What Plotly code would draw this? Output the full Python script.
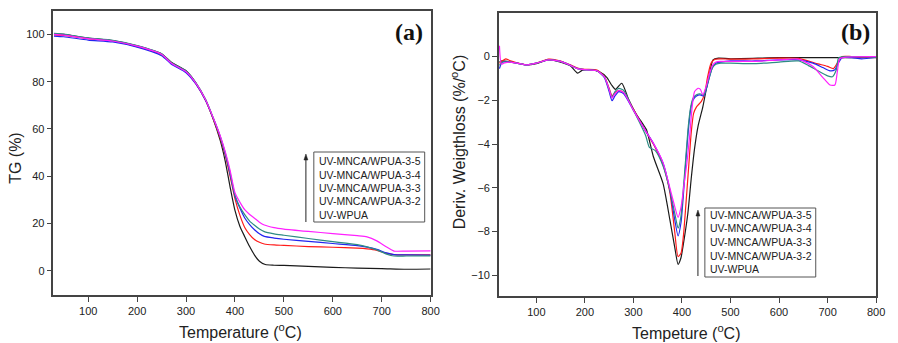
import plotly.graph_objects as go

W, H = 898, 343

# ---------------- Panel (a): TG curves ----------------
Ta_black = [30, 50, 100, 150, 200, 250, 270, 300, 320, 340, 355, 370, 380, 390, 400, 410, 420, 430, 440, 450, 462, 480, 500, 550, 600, 650, 700, 750, 800]
TG_black = [100.2, 100.0, 98.4, 97.4, 95.2, 91.8, 88.2, 84.6, 79.5, 72.2, 64.5, 55.0, 46.5, 35.5, 25.5, 18.8, 14.4, 10.2, 6.6, 4.0, 2.6, 2.3, 2.2, 1.8, 1.4, 1.1, 0.9, 0.6, 0.7]

Ta = [30, 50, 100, 150, 200, 250, 270, 300, 320, 340, 355, 370, 380, 390, 400, 410, 420, 430, 440, 450, 460, 480, 500, 550, 600, 650, 670, 690, 710, 725, 750, 800]
TG_32 = [99.8, 99.6, 98.2, 97.2, 94.8, 91.5, 87.8, 84.2, 79.2, 72.0, 64.5, 56.0, 49.0, 40.0, 30.5, 23.5, 18.3, 15.3, 13.2, 12.0, 11.3, 10.9, 10.7, 10.2, 9.9, 9.5, 9.2, 8.6, 7.3, 6.8, 6.7, 6.7]
TG_33 = [99.3, 99.0, 97.6, 96.8, 94.6, 91.0, 87.4, 83.8, 79.0, 72.0, 64.8, 56.5, 49.5, 41.0, 31.5, 26.5, 22.3, 19.5, 17.3, 15.6, 14.5, 13.8, 13.3, 12.4, 11.5, 10.6, 10.0, 9.0, 7.5, 6.8, 6.7, 6.6]
TG_34 = [100.4, 100.1, 98.5, 97.5, 95.3, 91.8, 88.0, 84.5, 79.6, 72.5, 65.0, 56.8, 50.0, 41.5, 32.0, 27.0, 23.7, 21.0, 19.2, 17.6, 16.5, 15.6, 15.0, 13.6, 12.3, 11.0, 10.1, 8.8, 7.0, 6.2, 6.2, 6.3]
TG_35 = [100.0, 99.7, 98.2, 97.2, 95.0, 91.6, 87.8, 84.2, 79.4, 72.3, 65.0, 57.0, 50.5, 42.5, 33.0, 29.0, 25.8, 23.8, 22.2, 20.5, 19.3, 18.2, 17.6, 16.6, 15.7, 14.8, 14.3, 12.6, 10.0, 8.3, 8.3, 8.4]

# ---------------- Panel (b): DTG curves ----------------
Tb_black = [24, 30, 40, 60, 80, 100, 125, 150, 170, 185, 195, 210, 230, 245, 255, 263, 276, 290, 305, 320, 327, 341, 361, 375, 385, 392, 398, 402, 412, 419, 426, 433, 443, 450, 457, 464, 475, 500, 600, 700, 750, 800]
D_black = [-0.25, -0.2, -0.22, -0.3, -0.38, -0.32, -0.15, -0.25, -0.42, -0.76, -0.62, -0.6, -0.7, -0.95, -1.3, -1.5, -1.22, -1.95, -2.6, -3.1, -3.35, -4.57, -5.8, -7.45, -8.7, -9.5, -9.2, -8.7, -7.2, -5.6, -4.2, -3.2, -2.3, -1.5, -0.76, -0.15, -0.07, -0.1, -0.05, -0.05, -0.05, -0.05]

Tb_32 = [24, 30, 37, 45, 60, 80, 100, 125, 150, 170, 185, 200, 225, 240, 250, 256, 262, 270, 280, 300, 325, 341, 361, 375, 385, 392, 398, 403, 408, 414, 419, 424, 430, 440, 447, 453, 460, 468, 480, 500, 550, 600, 640, 680, 700, 712, 720, 730, 750, 800]
D_32 = [-0.3, -0.2, -0.1, -0.18, -0.28, -0.37, -0.3, -0.12, -0.2, -0.38, -0.52, -0.58, -0.62, -0.9, -1.45, -1.8, -1.65, -1.55, -1.65, -2.4, -3.4, -4.0, -4.95, -6.2, -8.0, -9.15, -9.0, -8.2, -6.8, -5.0, -3.5, -2.6, -2.3, -2.05, -1.67, -0.91, -0.3, -0.12, -0.1, -0.12, -0.1, -0.07, -0.08, -0.33, -0.45, -0.55, -0.3, 0.0, 0.0, -0.02]

Tb_33 = [24, 30, 45, 60, 80, 100, 125, 150, 170, 185, 200, 225, 240, 250, 256, 262, 270, 280, 300, 325, 341, 361, 375, 385, 392, 398, 403, 408, 413, 418, 423, 430, 437, 445, 450, 457, 463, 470, 480, 500, 550, 600, 640, 670, 690, 705, 715, 722, 730, 750, 770, 800]
D_33 = [-0.55, -0.25, -0.25, -0.3, -0.38, -0.3, -0.15, -0.22, -0.4, -0.55, -0.6, -0.65, -0.95, -1.6, -2.02, -1.8, -1.6, -1.7, -2.45, -3.4, -3.96, -4.87, -6.1, -7.45, -8.2, -7.6, -6.3, -4.8, -3.4, -2.4, -1.98, -1.8, -1.75, -1.8, -1.5, -0.9, -0.5, -0.3, -0.25, -0.2, -0.2, -0.15, -0.15, -0.3, -0.5, -0.65, -0.6, -0.3, -0.05, -0.05, -0.1, -0.03]

Tb_34 = [24, 30, 45, 60, 80, 100, 125, 150, 170, 185, 200, 225, 240, 250, 256, 262, 270, 280, 300, 325, 333, 345, 361, 375, 385, 392, 398, 403, 408, 413, 418, 423, 430, 437, 445, 450, 457, 463, 470, 480, 500, 550, 600, 640, 660, 680, 700, 710, 718, 723, 750, 800]
D_34 = [-0.4, -0.25, -0.25, -0.3, -0.38, -0.3, -0.15, -0.22, -0.4, -0.55, -0.6, -0.65, -0.92, -1.5, -1.85, -1.6, -1.45, -1.55, -2.45, -3.6, -4.15, -4.3, -5.0, -6.1, -7.15, -7.85, -7.3, -6.0, -4.6, -3.2, -2.3, -1.9, -1.75, -1.7, -1.75, -1.45, -0.9, -0.5, -0.35, -0.3, -0.3, -0.32, -0.25, -0.2, -0.4, -0.65, -0.88, -0.92, -0.6, -0.05, 0.0, -0.02]

Tb_35 = [24, 28, 33, 45, 60, 80, 100, 125, 150, 170, 185, 200, 225, 240, 250, 256, 262, 270, 280, 300, 325, 341, 361, 375, 385, 392, 398, 404, 410, 416, 421, 426, 433, 438, 443, 450, 457, 463, 470, 480, 500, 550, 600, 640, 670, 690, 705, 715, 720, 725, 740, 800]
D_35 = [0.5, -0.35, -0.3, -0.25, -0.3, -0.38, -0.3, -0.15, -0.22, -0.4, -0.55, -0.6, -0.65, -0.92, -1.5, -1.9, -1.7, -1.55, -1.65, -2.45, -3.4, -3.96, -4.85, -6.0, -6.85, -7.35, -6.9, -5.9, -4.9, -3.6, -2.3, -1.6, -1.45, -1.5, -1.75, -1.35, -0.76, -0.4, -0.25, -0.22, -0.22, -0.22, -0.15, -0.12, -0.45, -0.95, -1.3, -1.3, -0.7, -0.1, -0.02, 0.0]

series_names = ["UV-WPUA", "UV-MNCA/WPUA-3-2", "UV-MNCA/WPUA-3-3", "UV-MNCA/WPUA-3-4", "UV-MNCA/WPUA-3-5"]
legend_lines = ["UV-MNCA/WPUA-3-5", "UV-MNCA/WPUA-3-4", "UV-MNCA/WPUA-3-3", "UV-MNCA/WPUA-3-2", "UV-WPUA"]
colors = ["#1a1a1a", "#ff1a1a", "#2424f0", "#2e8c84", "#ff20ff"]

# ---------------- helpers (pixel -> paper) ----------------
def px(x):
    return x / W

def py(y):
    return 1 - y / H

fig = go.Figure()

a_sets = [(Ta_black, TG_black), (Ta, TG_32), (Ta, TG_33), (Ta, TG_34), (Ta, TG_35)]
b_sets = [(Tb_black, D_black), (Tb_32, D_32), (Tb_33, D_33), (Tb_34, D_34), (Tb_35, D_35)]

for (x, y), name, c in zip(a_sets, series_names, colors):
    fig.add_trace(go.Scatter(x=x, y=y, name=name, mode="lines",
                             line=dict(color=c, width=1.2, shape="spline", smoothing=0.6),
                             xaxis="x", yaxis="y", showlegend=False))
for (x, y), name, c in zip(b_sets, series_names, colors):
    fig.add_trace(go.Scatter(x=x, y=y, name=name, mode="lines",
                             line=dict(color=c, width=1.2, shape="spline", smoothing=0.6),
                             xaxis="x2", yaxis="y2", showlegend=False))

axis_common = dict(showgrid=False, zeroline=False, showline=True, linecolor="#444",
                   linewidth=1.5, mirror=True, ticks="outside", ticklen=5, tickwidth=1.2,
                   tickcolor="#444", tickfont=dict(family="Liberation Sans, Arial", size=11, color="#222"))

fig.update_layout(
    width=W, height=H,
    margin=dict(l=0, r=0, t=0, b=0),
    paper_bgcolor="white", plot_bgcolor="white",
    xaxis=dict(domain=[px(54), px(435)], range=[29, 800], tickvals=[100, 200, 300, 400, 500, 600, 700, 800],
               anchor="y", **axis_common),
    yaxis=dict(domain=[py(295), py(11)], range=[-10.3, 109.9], tickvals=[0, 20, 40, 60, 80, 100],
               anchor="x", **axis_common),
    xaxis2=dict(domain=[px(504), px(885)], range=[23, 800], tickvals=[100, 200, 300, 400, 500, 600, 700, 800],
                anchor="y2", **axis_common),
    yaxis2=dict(domain=[py(296), py(13.3)], range=[-10.95, 1.98], tickvals=[-10, -8, -6, -4, -2, 0, 2],
                anchor="x2", **axis_common),
)

ann = []
title_font = dict(family="Liberation Sans, Arial", size=16, color="#222")
ann.append(dict(text="Temperature (<sup>o</sup>C)", x=px(243), y=py(331), xref="paper", yref="paper",
                showarrow=False, font=title_font, xanchor="center", yanchor="middle"))
ann.append(dict(text="TG (%)", x=px(15), y=py(158), xref="paper", yref="paper", textangle=-90,
                showarrow=False, font=title_font, xanchor="center", yanchor="middle"))
ann.append(dict(text="Tempeture (<sup>o</sup>C)", x=px(693), y=py(332), xref="paper", yref="paper",
                showarrow=False, font=title_font, xanchor="center", yanchor="middle"))
ann.append(dict(text="Deriv. Weigthloss (%/<sup>o</sup>C)", x=px(463), y=py(142), xref="paper", yref="paper",
                textangle=-90, showarrow=False, font=title_font, xanchor="center", yanchor="middle"))

label_font = dict(family="Liberation Serif, Times New Roman", size=24, color="#111")
ann.append(dict(text="<b>(a)</b>", x=px(413), y=py(32), xref="paper", yref="paper", showarrow=False,
                font=label_font, xanchor="center", yanchor="middle"))
ann.append(dict(text="<b>(b)</b>", x=px(864), y=py(32), xref="paper", yref="paper", showarrow=False,
                font=label_font, xanchor="center", yanchor="middle"))

leg_font = dict(family="Liberation Sans, Arial", size=10.5, color="#222")
shapes = []
for (bx0, bx1, by0, by1, tx, ys, arx, ahead, atail) in [
        (317, 429, 152, 222, 320.5, [161, 174.5, 188, 201.5, 215], 309, 154, 222),
        (712, 824, 208, 277, 715, [215, 228.5, 242, 255.5, 269], 705, 210, 276)]:
    shapes.append(dict(type="rect", xref="paper", yref="paper", x0=px(bx0), x1=px(bx1), y0=py(by1), y1=py(by0),
                       line=dict(color="#555", width=1), fillcolor="rgba(0,0,0,0)"))
    for t, yy in zip(legend_lines, ys):
        ann.append(dict(text=t, x=px(tx), y=py(yy), xref="paper", yref="paper", showarrow=False,
                        font=leg_font, xanchor="left", yanchor="middle"))
    # arrow: shaft + small triangular head
    shapes.append(dict(type="line", xref="paper", yref="paper", x0=px(arx), x1=px(arx),
                       y0=py(atail), y1=py(ahead + 4), line=dict(color="#222", width=1)))
    shapes.append(dict(type="path", xref="paper", yref="paper",
                       path=f"M {px(arx)} {py(ahead)} L {px(arx - 2)} {py(ahead + 6)} L {px(arx + 2)} {py(ahead + 6)} Z",
                       fillcolor="#222", line=dict(color="#222", width=0.5)))

fig.update_layout(annotations=ann, shapes=shapes)

fig.write_html("out.html")
